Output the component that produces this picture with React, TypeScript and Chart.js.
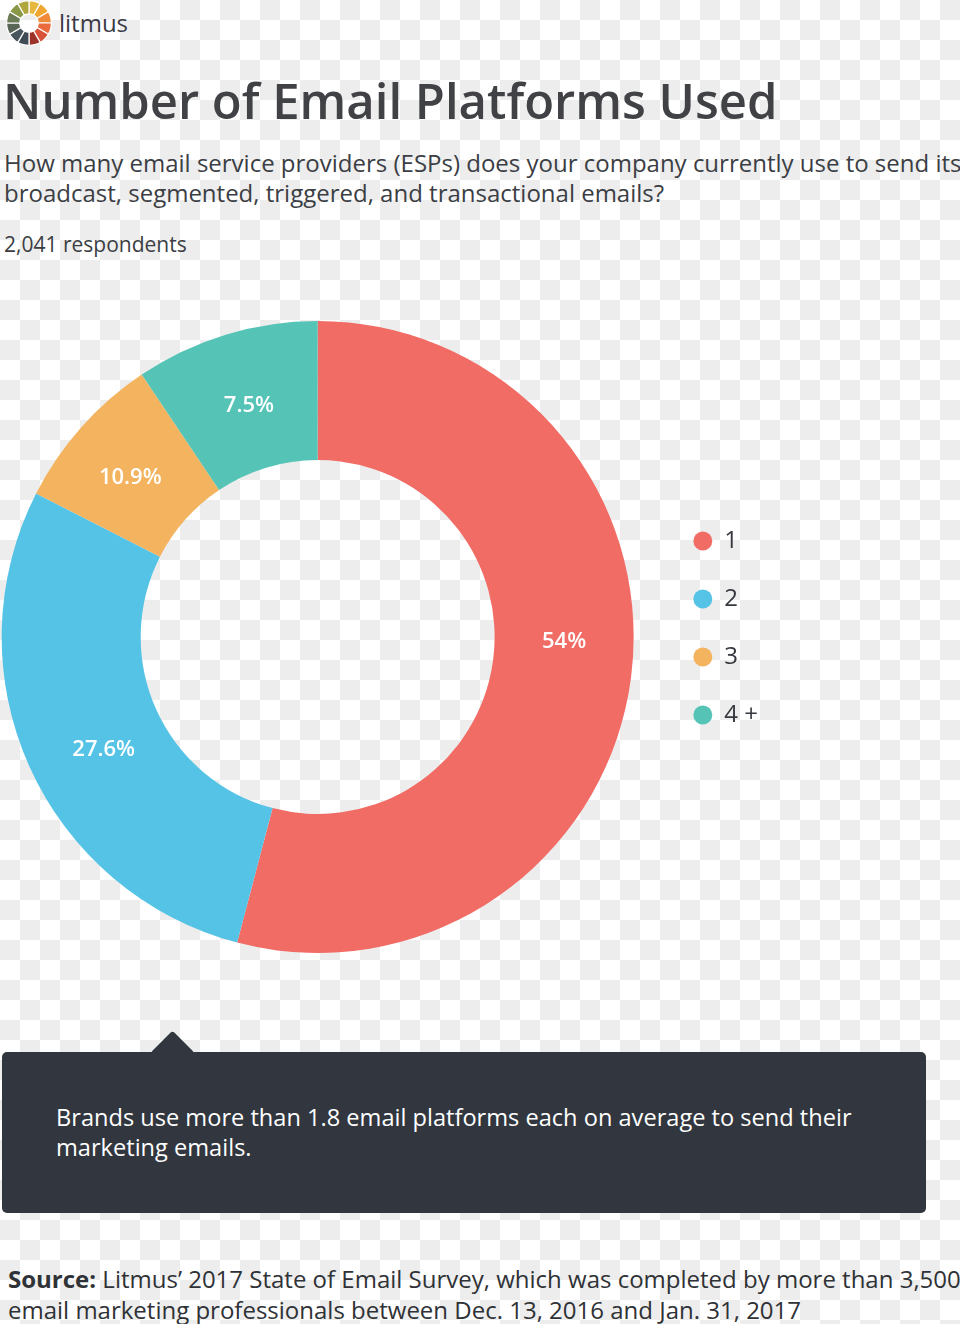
import React, { useEffect, useRef } from 'react';
import { Chart, registerables } from 'chart.js';

Chart.register(...registerables);

const FONT = '"Open Sans", Lato, sans-serif';

// ---- data ----
const categories = ['1', '2', '3', '4 +'];
const shares = [54.1, 28.4, 8.1, 9.4];
// printed slice labels
const shareLabels = ['54%', '27.6%', '10.9%', '7.5%'];
const sliceColors = ['#f26c66', '#55c3e6', '#f3b35f', '#55c4b7'];

const logoSegments = [1, 1, 1, 1, 1, 1, 1, 1, 1, 1, 1, 1];
const logoColors = [
  '#e8b73d', '#f0a732', '#ef8a3a', '#e96b3e', '#d8533a', '#9b3128',
  '#3e4b55', '#48555c', '#596656', '#6c7c56', '#8a9948', '#b0a63e',
];

const TEXT_DARK = '#3b3e44';

const sliceLabelPlugin = {
  id: 'sliceLabels',
  afterDatasetsDraw(chart: any, _args: any, opts: any) {
    if (!opts || !opts.labels) return;
    const ctx = chart.ctx;
    const meta = chart.getDatasetMeta(0);
    ctx.save();
    ctx.font = opts.font;
    ctx.fillStyle = opts.color;
    ctx.textAlign = 'center';
    ctx.textBaseline = 'middle';
    meta.data.forEach((arc: any, i: number) => {
      const p = arc.tooltipPosition();
      const n = (opts.nudge && opts.nudge[i]) || [0, 0];
      ctx.fillText(opts.labels[i], p.x + n[0], p.y + n[1]);
    });
    ctx.restore();
  },
};

function Logo() {
  const ref = useRef<HTMLCanvasElement>(null);
  useEffect(() => {
    const chart = new Chart(ref.current as HTMLCanvasElement, {
      type: 'doughnut',
      data: {
        labels: logoSegments.map((_, i) => String(i)),
        datasets: [{ data: logoSegments, backgroundColor: logoColors, borderColor: '#ffffff', borderWidth: 1.2 }],
      },
      options: {
        animation: false,
        responsive: false,
        cutout: '41%',
        events: [],
        plugins: { legend: { display: false }, tooltip: { enabled: false } },
      } as any,
    });
    return () => chart.destroy();
  }, []);
  return (
    <canvas
      ref={ref}
      width={46}
      height={46}
      style={{ position: 'absolute', left: 6, top: 0, width: 46, height: 46 }}
    />
  );
}

function Donut() {
  const ref = useRef<HTMLCanvasElement>(null);
  useEffect(() => {
    const chart = new Chart(ref.current as HTMLCanvasElement, {
      type: 'doughnut',
      data: {
        labels: categories,
        datasets: [{ data: shares, backgroundColor: sliceColors, borderWidth: 0, hoverOffset: 0 }],
      },
      options: {
        animation: false,
        responsive: false,
        maintainAspectRatio: false,
        cutout: '56%',
        events: [],
        layout: { padding: 0 },
        plugins: {
          legend: {
            position: 'right',
            align: 'start',
            title: { display: true, text: ' ', padding: { top: 0, bottom: 164 }, font: { size: 10, lineHeight: 1 } },
            labels: {
              usePointStyle: true,
              pointStyle: 'circle',
              boxWidth: 19,
              boxHeight: 13.4,
              padding: 34,
              color: '#35383e',
              font: { family: FONT, size: 24 },
            },
          },
          tooltip: { enabled: false },
          sliceLabels: {
            labels: shareLabels,
            font: `600 22px ${FONT}`,
            color: '#ffffff',
            nudge: [[2, -27], [11, 12], [-3, 4], [3, 5]],
          },
        },
      } as any,
      plugins: [sliceLabelPlugin],
    });
    return () => chart.destroy();
  }, []);
  return (
    <canvas
      ref={ref}
      width={792}
      height={632}
      style={{ position: 'absolute', left: -24, top: 321, width: 792, height: 632 }}
    />
  );
}

export default function App() {
  const checker = 'conic-gradient(#ededed 25%, #ffffff 0 50%, #ededed 0 75%, #ffffff 0)';
  const txt = (extra: React.CSSProperties): React.CSSProperties => ({
    position: 'absolute',
    whiteSpace: 'nowrap',
    margin: 0,
    ...extra,
  });
  return (
    <div
      style={{
        position: 'absolute',
        left: 0,
        top: 0,
        width: 960,
        height: 1324,
        overflow: 'hidden',
        backgroundColor: '#ffffff',
        backgroundImage: checker,
        backgroundSize: '40px 40px',
        fontFamily: FONT,
        color: TEXT_DARK,
      }}
    >
      <Logo />
      <div style={txt({ left: 59, top: 7, fontSize: 24, lineHeight: '32px', fontWeight: 500, color: '#3a3a46' })}>litmus</div>
      <div style={txt({ left: 3, top: 74, fontSize: 49, lineHeight: '52px', fontWeight: 600, color: '#414245' })}>
        Number of Email Platforms Used
      </div>
      <div style={txt({ left: 4, top: 148, fontSize: 24, lineHeight: '30px' })}>
        How many email service providers (ESPs) does your company currently use to send its
        <br />
        broadcast, segmented, triggered, and transactional emails?
      </div>
      <div style={txt({ left: 4, top: 229, fontSize: 21, lineHeight: '30px' })}>2,041 respondents</div>

      <Donut />

      <div
        style={{
          position: 'absolute',
          left: 2,
          top: 1052,
          width: 924,
          height: 161,
          background: '#32363e',
          borderRadius: 5,
        }}
      />
      <div
        style={{
          position: 'absolute',
          left: 157,
          top: 1037,
          width: 31,
          height: 31,
          background: '#32363e',
          borderRadius: 3,
          transform: 'rotate(45deg)',
        }}
      />
      <div style={txt({ left: 56, top: 1102, fontSize: 23.6, lineHeight: '30px', color: '#ffffff' })}>
        Brands use more than 1.8 email platforms each on average to send their
        <br />
        marketing emails.
      </div>

      <div style={txt({ left: 8, top: 1263, fontSize: 24, lineHeight: '31px', color: '#2f3236' })}>
        <b>Source:</b> Litmus’ 2017 State of Email Survey, which was completed by more than 3,500
        <br />
        email marketing professionals between Dec. 13, 2016 and Jan. 31, 2017
      </div>
    </div>
  );
}
